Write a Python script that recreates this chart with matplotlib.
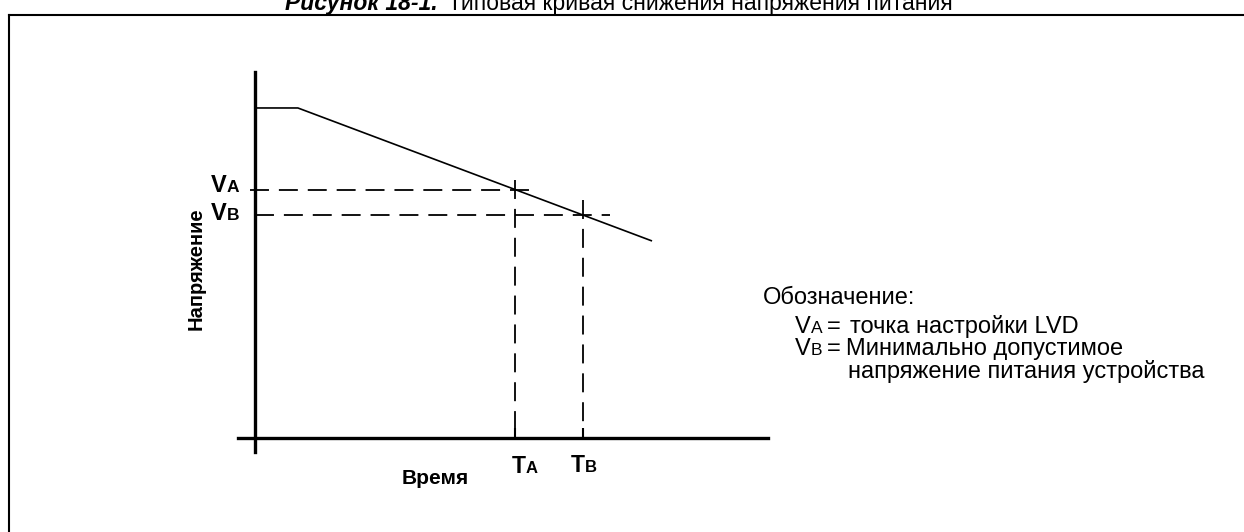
import matplotlib
matplotlib.use('Agg')
import matplotlib.pyplot as plt
from matplotlib.lines import Line2D

plt.rcParams['font.family'] = ['Liberation Sans', 'DejaVu Sans']

# curve: time vs supply voltage (arbitrary units)
time = [0.0, 1.65, 15.27]
voltage = [10.0, 10.0, 5.97]

# trip points
t_a, t_b = 10.0, 12.6
v_a, v_b = 7.5, 6.75
# how far the guide lines reach
va_end, vb_end = 10.6, 13.65
ta_top, tb_top = 7.82, 7.2

title_bold = 'Рисунок 18-1.'
title_rest = 'Типовая кривая снижения напряжения питания'
ylabel = 'Напряжение'
xlabel = 'Время'
legend_head = 'Обозначение:'
legend_a = 'точка настройки LVD'
legend_b = 'Минимально допустимое'
legend_b2 = 'напряжение питания устройства'

W, H = 1244, 532
fig = plt.figure(figsize=(W / 100, H / 100), dpi=100)
fig.patch.set_facecolor('white')

# axes box in pixels
ax = fig.add_axes([238 / W, 1 - 452 / H, (768 - 238) / W, (452 - 72) / H])
ax.patch.set_alpha(0.0)
ax.set_xlim(-0.654, 19.73)
ax.set_ylim(-0.424, 11.09)
ax.spines['top'].set_visible(False)
ax.spines['right'].set_visible(False)
ax.spines['left'].set_position(('data', 0))
ax.spines['bottom'].set_position(('data', 0))
ax.spines['left'].set_linewidth(2.4)
ax.spines['bottom'].set_linewidth(2.4)
ax.set_yticks([])
ax.set_xticks([t_a, t_b])
ax.set_xticklabels(['', ''])
ax.tick_params(axis='x', direction='in', length=7, width=1.5)

ax.plot(time, voltage, color='black', lw=1.2, solid_capstyle='butt')

dash = dict(color='black', lw=1.3, linestyle=(0, (10.5, 5.5)))
ax.plot([-0.2, va_end], [v_a, v_a], **dash)
ax.plot([0, vb_end], [v_b, v_b], **dash)
ax.plot([t_a, t_a], [ta_top, 0], **dash)
ax.plot([t_b, t_b], [tb_top, 0], **dash)

# frame around the figure (runs off the right and bottom edges)
fig.add_artist(Line2D([9 / W, 1.0], [1 - 15 / H, 1 - 15 / H], color='black', lw=1.5))
fig.add_artist(Line2D([9 / W, 9 / W], [0.0, 1 - 15 / H], color='black', lw=1.5))

renderer = fig.canvas.get_renderer()


def put_runs(x, y, runs):
    # x, y are pixel positions from the top-left corner, y is the baseline
    for s, size, weight, style, gap in runs:
        x += gap
        t = fig.text(x / W, 1 - y / H, s, fontsize=size, fontweight=weight,
                     fontstyle=style, va='baseline', ha='left')
        x += t.get_window_extent(renderer).width


# title, cut at the top edge like the scanned page
put_runs(285, 10, [(title_bold, 16.5, 'bold', 'italic', 0),
                   (title_rest, 16.5, 'normal', 'normal', 10)])

# axis labels
put_runs(211, 192, [('V', 17, 'bold', 'normal', 0), ('A', 12.5, 'bold', 'normal', 0)])
put_runs(211, 220, [('V', 17, 'bold', 'normal', 0), ('B', 12.5, 'bold', 'normal', 0)])
put_runs(512, 473, [('T', 16.5, 'bold', 'normal', 0), ('A', 12, 'bold', 'normal', 0)])
put_runs(571, 472, [('T', 16.5, 'bold', 'normal', 0), ('B', 12, 'bold', 'normal', 0)])
put_runs(402, 484, [(xlabel, 15, 'bold', 'normal', 0)])
fig.text(196 / W, 1 - 269 / H, ylabel, fontsize=14.5, fontweight='bold',
         rotation=90, ha='center', va='center')

# legend
fs = 17
put_runs(763, 304, [(legend_head, fs, 'normal', 'normal', 0)])
put_runs(795, 333, [('V', fs, 'normal', 'normal', 0), ('A', 12.5, 'normal', 'normal', 0),
                    ('=', fs, 'normal', 'normal', 5), (legend_a, fs, 'normal', 'normal', 9)])
put_runs(795, 355, [('V', fs, 'normal', 'normal', 0), ('B', 12.5, 'normal', 'normal', 0),
                    ('=', fs, 'normal', 'normal', 5), (legend_b, fs, 'normal', 'normal', 5)])
put_runs(848, 378, [(legend_b2, fs, 'normal', 'normal', 0)])

fig.savefig('out.png', dpi=100)
